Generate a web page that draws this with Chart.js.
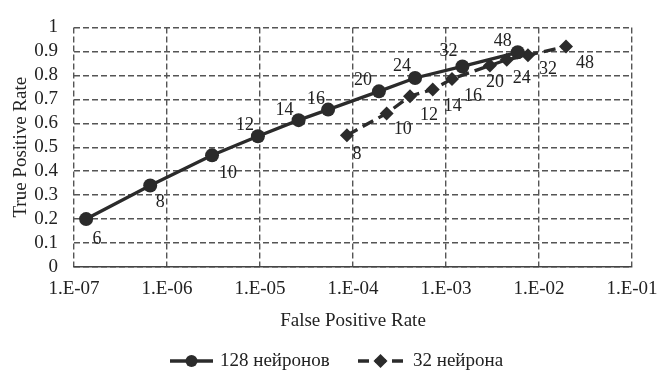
<!DOCTYPE html>
<html lang="ru">
<head>
    <meta charset="UTF-8">
    <title>ROC - 128 / 32 нейрона</title>
    <script src="https://cdn.jsdelivr.net/npm/chart.js"></script>
    <style>
        html, body { margin: 0; padding: 0; background: #fff; }
        #wrap { width: 659px; height: 371px; }
    </style>
</head>
<body>
    <div id="wrap"><canvas id="roc"></canvas></div>

    <script>
        // data
        const neurons128 = [6, 8, 10, 12, 14, 16, 20, 24, 32, 48];
        const fpr128 = [1.35e-7, 6.6e-7, 3.05e-6, 9.5e-6, 2.6e-5, 5.4e-5, 1.9e-4, 4.65e-4, 1.5e-3, 5.9e-3];
        const tpr128 = [0.20, 0.34, 0.466, 0.546, 0.613, 0.657, 0.733, 0.789, 0.837, 0.896];

        const neurons32 = [8, 10, 12, 14, 16, 20, 24, 32, 48];
        const fpr32 = [8.6e-5, 2.3e-4, 4.1e-4, 7.2e-4, 1.16e-3, 2.97e-3, 4.5e-3, 7.6e-3, 1.95e-2];
        const tpr32 = [0.55, 0.641, 0.713, 0.741, 0.785, 0.841, 0.865, 0.884, 0.92];

        const xTicks = [1e-7, 1e-6, 1e-5, 1e-4, 1e-3, 1e-2, 1e-1];
        const seriesNames = ["128 нейронов", "32 нейрона"];

        // where each point label sits relative to its marker (px)
        const labelOffsets = [
            [[11, 20], [10, 17], [16, 18], [-13, -11], [-14, -10], [-12, -10], [-16, -11], [-13, -12], [-14, -15], [-15, -11]],
            [[10, 19], [16, 16], [19, 19], [20, 17], [21, 17], [5, 17], [15, 19], [20, 14], [19, 17]]
        ];
        const pointNames = [neurons128, neurons32];

        const serif = "'Liberation Serif', 'DejaVu Serif', serif";
        const ink = "#2b2b2b";
        const gridInk = "#555";

        function toPoints(xs, ys) {
            return xs.map((x, i) => ({ x: x, y: ys[i] }));
        }

        function fmtExp(v) {
            const e = Math.round(Math.log10(v));
            const s = Math.abs(e) < 10 ? "0" + Math.abs(e) : "" + Math.abs(e);
            return "1.E" + (e < 0 ? "-" : "+") + s;
        }

        // numbers next to the markers
        const pointLabels = {
            id: "pointLabels",
            afterDatasetsDraw(chart) {
                const ctx = chart.ctx;
                ctx.save();
                ctx.font = "18px " + serif;
                ctx.fillStyle = "#222";
                ctx.textAlign = "center";
                ctx.textBaseline = "middle";
                chart.data.datasets.forEach((ds, d) => {
                    chart.getDatasetMeta(d).data.forEach((el, i) => {
                        const off = labelOffsets[d][i];
                        ctx.fillText(pointNames[d][i], el.x + off[0], el.y + off[1]);
                    });
                });
                ctx.restore();
            }
        };

        // legend with line + marker samples, as in the original
        const lineLegend = {
            id: "lineLegend",
            afterDraw(chart) {
                const ctx = chart.ctx;
                const y = 361;
                const starts = [170, 358];
                ctx.save();
                ctx.font = "19px " + serif;
                ctx.textBaseline = "middle";
                chart.data.datasets.forEach((ds, d) => {
                    const x = starts[d];
                    const w = d === 0 ? 43 : 45;
                    ctx.strokeStyle = ink;
                    ctx.lineWidth = 3.5;
                    ctx.setLineDash(d === 0 ? [] : [11, 6]);
                    ctx.beginPath();
                    ctx.moveTo(x, y);
                    ctx.lineTo(x + w, y);
                    ctx.stroke();
                    ctx.setLineDash([]);
                    ctx.fillStyle = ink;
                    ctx.beginPath();
                    const cx = x + w / 2;
                    if (d === 0) {
                        ctx.arc(cx, y, 6, 0, Math.PI * 2);
                    } else {
                        ctx.moveTo(cx, y - 7);
                        ctx.lineTo(cx + 7, y);
                        ctx.lineTo(cx, y + 7);
                        ctx.lineTo(cx - 7, y);
                        ctx.closePath();
                    }
                    ctx.fill();
                    ctx.fillStyle = "#222";
                    ctx.fillText(seriesNames[d], x + w + (d === 0 ? 7 : 10), y);
                });
                ctx.restore();
            }
        };

        const ctx = document.getElementById("roc").getContext("2d");
        new Chart(ctx, {
            type: "line",
            data: {
                datasets: [{
                    label: seriesNames[0],
                    data: toPoints(fpr128, tpr128),
                    borderColor: ink,
                    backgroundColor: ink,
                    borderWidth: 3.3,
                    pointStyle: "circle",
                    pointRadius: 7,
                    pointBorderWidth: 0,
                    pointHoverRadius: 7,
                    tension: 0
                }, {
                    label: seriesNames[1],
                    data: toPoints(fpr32, tpr32),
                    borderColor: ink,
                    backgroundColor: ink,
                    borderWidth: 3.3,
                    borderDash: [12, 6],
                    pointStyle: "rectRot",
                    pointRadius: 7,
                    pointBorderWidth: 0,
                    pointHoverRadius: 7,
                    tension: 0
                }]
            },
            options: {
                responsive: true,
                maintainAspectRatio: false,
                animation: false,
                layout: { padding: { top: 16, right: 27, bottom: 40, left: 0 } },
                plugins: {
                    legend: { display: false },
                    tooltip: { enabled: false }
                },
                scales: {
                    x: {
                        type: "logarithmic",
                        min: 1e-7,
                        max: 1e-1,
                        afterBuildTicks: (scale) => { scale.ticks = xTicks.map(v => ({ value: v })); },
                        afterFit: (scale) => { scale.paddingLeft = 0; scale.paddingRight = 0; },
                        ticks: {
                            callback: (v) => fmtExp(v),
                            font: { family: serif, size: 19, lineHeight: 1 },
                            color: "#222",
                            padding: 13,
                            maxRotation: 0,
                            autoSkip: false
                        },
                        grid: {
                            color: gridInk,
                            lineWidth: 1.4,
                            drawTicks: false
                        },
                        border: { color: "#444", width: 1.5, display: true, dash: [6, 3] },
                        title: {
                            display: true,
                            text: "False Positive Rate",
                            font: { family: serif, size: 19, lineHeight: 1 },
                            color: "#222",
                            padding: { top: 0, bottom: 0 }
                        }
                    },
                    y: {
                        min: 0,
                        max: 1,
                        afterFit: (scale) => { scale.width = 74; },
                        ticks: {
                            stepSize: 0.1,
                            autoSkip: false,
                            callback: (v) => String(Math.round(v * 10) / 10),
                            font: { family: serif, size: 19 },
                            color: "#222",
                            padding: 16
                        },
                        grid: {
                            color: gridInk,
                            lineWidth: 1.4,
                            drawTicks: false
                        },
                        border: { display: false, dash: [6, 3] },
                        title: {
                            display: true,
                            text: "True Positive Rate",
                            font: { family: serif, size: 19 },
                            color: "#222",
                            padding: { top: 10, bottom: 0 }
                        }
                    }
                }
            },
            plugins: [pointLabels, lineLegend]
        });
    </script>
</body>
</html>
